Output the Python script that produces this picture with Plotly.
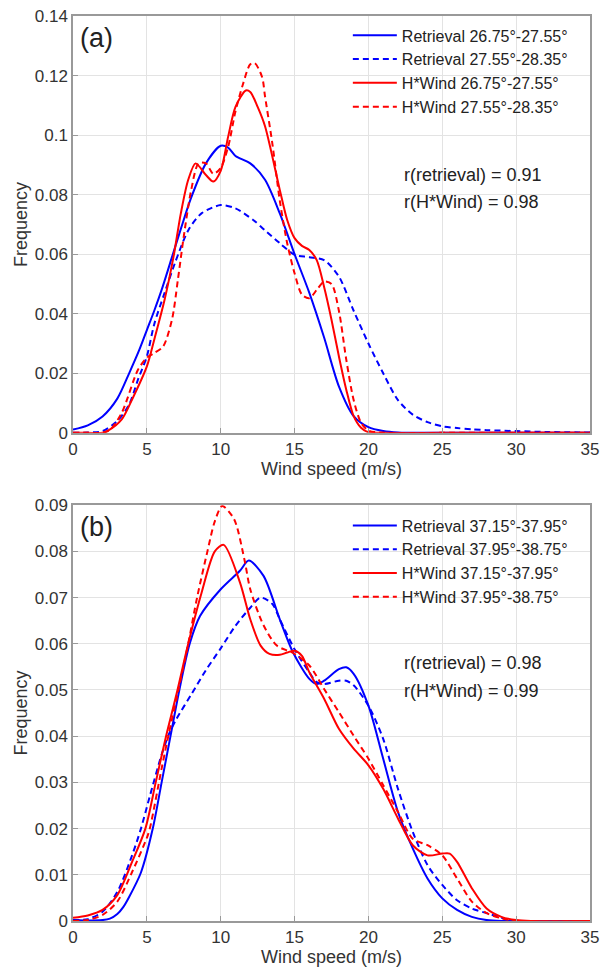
import plotly.graph_objects as go
from plotly.subplots import make_subplots

# ---------------- Panel (a) data ----------------
a_ret1_x = [0, 1, 2, 3, 3.8, 4.5, 5, 5.5, 6, 6.7, 7.3, 8, 9, 10, 10.5, 11, 12, 13, 14, 15, 16, 17, 18, 19, 20, 21, 22, 25, 30, 35]
a_ret1_y = [0.0011, 0.0025, 0.0055, 0.0115, 0.020, 0.028, 0.0345, 0.041, 0.048, 0.059, 0.0685, 0.079, 0.0905, 0.0964,
            0.0958, 0.093, 0.0905, 0.085, 0.0737, 0.060, 0.047, 0.032, 0.0156, 0.0056, 0.0019, 0.0006, 0.0001, 0, 0, 0]

a_ret2_x = [0, 1, 2, 3, 3.8, 4.4, 5, 5.5, 6.2, 6.9, 7.8, 8.7, 10, 11, 12.2, 13, 14, 15, 16, 17, 18, 19, 20, 21, 22, 23,
            24, 25, 26, 27, 28, 30, 32, 35]
a_ret2_y = [0, 0.0001, 0.0006, 0.004, 0.0095, 0.0179, 0.0257, 0.0365, 0.047, 0.057, 0.068, 0.0737, 0.0765, 0.0754,
            0.0715, 0.068, 0.0637, 0.0598, 0.059, 0.058, 0.0525, 0.041, 0.030, 0.020, 0.011, 0.0061, 0.0036, 0.0022,
            0.0016, 0.0012, 0.0009, 0.0006, 0.0003, 0.0001]

a_hw1_x = [0, 1, 2, 2.4, 3.3, 4, 5, 5.5, 6.2, 6.8, 7.3, 7.8, 8.3, 9, 9.5, 10, 10.5, 11, 11.7, 12, 12.5, 13, 14, 14.5,
           15, 15.5, 16, 16.5, 17, 17.5, 18, 18.5, 19, 19.5, 20, 21, 25, 30, 35]
a_hw1_y = [0, 0, 0, 0.0008, 0.0045, 0.0112, 0.0223, 0.0313, 0.0447, 0.059, 0.0737, 0.085, 0.0905, 0.0866, 0.0844,
           0.088, 0.0994, 0.1095, 0.115, 0.1145, 0.1095, 0.103, 0.0816, 0.0715, 0.0654, 0.0628, 0.0614, 0.058,
           0.049, 0.038, 0.0257, 0.0145, 0.0056, 0.0017, 0.0002, 0, 0, 0, 0]

a_hw2_x = [0, 1, 2, 2.5, 3.3, 4.4, 5, 5.5, 6.1, 6.7, 7.1, 7.5, 8, 8.5, 9, 9.5, 10, 10.5, 11, 11.5, 12, 12.3, 12.8,
           13, 13.5, 14, 14.5, 15, 15.5, 16, 16.5, 17, 17.5, 18, 18.5, 19, 19.5, 20, 21, 25, 30, 35]
a_hw2_y = [0, 0, 0, 0.001, 0.0067, 0.0212, 0.0252, 0.0268, 0.029, 0.038, 0.0514, 0.066, 0.0815, 0.0905, 0.0905,
           0.087, 0.089, 0.096, 0.108, 0.117, 0.1238, 0.1242, 0.1195, 0.113, 0.097, 0.078, 0.0637, 0.0536,
           0.0464, 0.0452, 0.048, 0.0508, 0.050, 0.041, 0.0246, 0.011, 0.0034, 0.0008, 0, 0, 0, 0]

# ---------------- Panel (b) data ----------------
b_ret1_x = [0, 1, 2, 2.5, 3, 3.4, 3.8, 4.6, 5.4, 6, 6.6, 7.2, 7.9, 8.6, 10, 11.3, 11.9, 12.9, 14, 14.9, 16, 16.5, 17,
            18, 18.5, 19, 20, 21, 22, 23, 24, 25, 26, 27, 28, 29, 30, 35]
b_ret1_y = [0.0002, 0.0001, 0.0002, 0.0005, 0.0015, 0.003, 0.0052, 0.0105, 0.020, 0.030, 0.040, 0.050, 0.060, 0.066,
            0.0718, 0.0758, 0.078, 0.0747, 0.0653, 0.0581, 0.0524, 0.0513, 0.052, 0.0545, 0.0549, 0.0535, 0.0466,
            0.0351, 0.0236, 0.0157, 0.0092, 0.0049, 0.0024, 0.0009, 0.0002, 0, 0, 0]

b_ret2_x = [0, 1, 2, 3, 4, 4.6, 5.2, 6, 6.5, 7, 8, 9, 10, 11, 12, 12.7, 13.5, 14, 15, 16, 16.5, 17, 18, 18.5, 19,
            20, 21, 22, 23, 24, 25, 26, 27, 28, 29, 29.5, 30, 35]
b_ret2_y = [0.0002, 0.0004, 0.002, 0.0063, 0.0142, 0.020, 0.027, 0.036, 0.0405, 0.0437, 0.049, 0.0543, 0.059,
            0.0639, 0.0678, 0.070, 0.0686, 0.0653, 0.0588, 0.0538, 0.0517, 0.0513, 0.052, 0.052, 0.051, 0.0466,
            0.0394, 0.0286, 0.0193, 0.0121, 0.0078, 0.0045, 0.0027, 0.0017, 0.0007, 0.0002, 0, 0]

b_hw1_x = [0, 1, 2, 3, 4, 4.9, 5.6, 6.3, 7, 7.8, 8.7, 9.6, 10.2, 11.3, 12, 12.7, 13.3, 14, 14.5, 15, 15.5, 16,
           17, 18, 19, 20, 21, 22, 23, 24, 25, 25.5, 26, 27, 28, 29, 30, 31, 35]
b_hw1_y = [0.0007, 0.0012, 0.0024, 0.0056, 0.0128, 0.020, 0.030, 0.040, 0.049, 0.060, 0.071, 0.080, 0.0814,
           0.0733, 0.0653, 0.0596, 0.0578, 0.0576, 0.0581, 0.0585, 0.0574, 0.0538, 0.0481, 0.0416, 0.0373,
           0.0337, 0.0286, 0.0222, 0.0164, 0.0142, 0.0146, 0.0146, 0.0128, 0.0071, 0.0027, 0.0009, 0.0002, 0, 0]

b_hw2_x = [0, 1, 2, 3, 4, 5, 5.2, 6, 6.45, 7, 7.8, 8.4, 9.1, 9.6, 10.1, 10.9, 11.6, 12, 12.9, 13.8, 14.9, 16, 17,
           18, 19, 20, 21, 22, 23, 24, 25, 26, 27, 28, 29, 30, 35]
b_hw2_y = [0, 0.0002, 0.0013, 0.0042, 0.0106, 0.018, 0.020, 0.033, 0.040, 0.048, 0.060, 0.070, 0.080, 0.0865,
           0.0898, 0.087, 0.0783, 0.0718, 0.064, 0.0596, 0.058, 0.0553, 0.0502, 0.0452, 0.0401, 0.0351,
           0.0294, 0.0236, 0.0178, 0.0164, 0.0142, 0.0092, 0.0042, 0.0017, 0.0006, 0, 0]

a_names = ["Retrieval 26.75°-27.55°", "Retrieval 27.55°-28.35°",
           "H*Wind 26.75°-27.55°", "H*Wind 27.55°-28.35°"]
b_names = ["Retrieval 37.15°-37.95°", "Retrieval 37.95°-38.75°",
           "H*Wind 37.15°-37.95°", "H*Wind 37.95°-38.75°"]
a_stats = ["r(retrieval) = 0.91", "r(H*Wind) = 0.98"]
b_stats = ["r(retrieval) = 0.98", "r(H*Wind) = 0.99"]

x_ticks = [0, 5, 10, 15, 20, 25, 30, 35]
a_yticks = [0, 0.02, 0.04, 0.06, 0.08, 0.1, 0.12, 0.14]
a_ytext = ["0", "0.02", "0.04", "0.06", "0.08", "0.1", "0.12", "0.14"]
b_yticks = [0, 0.01, 0.02, 0.03, 0.04, 0.05, 0.06, 0.07, 0.08, 0.09]
b_ytext = ["0", "0.01", "0.02", "0.03", "0.04", "0.05", "0.06", "0.07", "0.08", "0.09"]

BLUE = "#0000ff"
RED = "#ff0000"
DASH = "6px,4px"
FONT = "Liberation Sans, Arial, Helvetica, sans-serif"
TXT = "#333333"

fig = make_subplots(rows=2, cols=1, vertical_spacing=0.08)

styles = [(BLUE, "solid"), (BLUE, DASH), (RED, "solid"), (RED, DASH)]
a_data = [(a_ret1_x, a_ret1_y), (a_ret2_x, a_ret2_y), (a_hw1_x, a_hw1_y), (a_hw2_x, a_hw2_y)]
b_data = [(b_ret1_x, b_ret1_y), (b_ret2_x, b_ret2_y), (b_hw1_x, b_hw1_y), (b_hw2_x, b_hw2_y)]

for (xs, ys), name, (c, d) in zip(a_data, a_names, styles):
    fig.add_trace(go.Scatter(x=xs, y=ys, name=name, mode="lines",
                             line=dict(color=c, dash=d, width=2, shape="spline", smoothing=0.8),
                             legend="legend"), row=1, col=1)
for (xs, ys), name, (c, d) in zip(b_data, b_names, styles):
    fig.add_trace(go.Scatter(x=xs, y=ys, name=name, mode="lines",
                             line=dict(color=c, dash=d, width=2, shape="spline", smoothing=0.8),
                             legend="legend2"), row=2, col=1)

axis_common = dict(showgrid=True, gridcolor="#e3e3e3", gridwidth=1, zeroline=False,
                   showline=True, linecolor="#999999", linewidth=1.5, mirror=True,
                   ticks="inside", ticklen=5, tickcolor="#999999",
                   tickfont=dict(family=FONT, size=17, color=TXT))
title_font = dict(family=FONT, size=18, color=TXT)

fig.update_xaxes(range=[0, 35], tickvals=x_ticks, ticklabeloverflow="allow", **axis_common)
fig.update_xaxes(title=dict(text="Wind speed (m/s)", font=title_font, standoff=0), row=1, col=1)
fig.update_xaxes(title=dict(text="Wind speed (m/s)", font=title_font, standoff=4), row=2, col=1)
fig.update_yaxes(range=[0, 0.14], tickvals=a_yticks, ticktext=a_ytext,
                 title=dict(text="Frequency", font=title_font, standoff=2),
                 row=1, col=1, **axis_common)
fig.update_yaxes(range=[0, 0.09], tickvals=b_yticks, ticktext=b_ytext,
                 title=dict(text="Frequency", font=title_font, standoff=2),
                 row=2, col=1, **axis_common)

leg_font = dict(family=FONT, size=16, color="#222222")
fig.update_layout(
    width=606, height=971,
    margin=dict(l=73, r=7, t=16, b=49),
    paper_bgcolor="white", plot_bgcolor="white",
    xaxis=dict(domain=[0, 1]), xaxis2=dict(domain=[0, 1]),
    yaxis=dict(domain=[0.5394, 1.0]), yaxis2=dict(domain=[0.0, 0.4595]),
    legend=dict(x=0.5316, y=0.9974, xanchor="left", yanchor="top", xref="paper", yref="paper",
                bgcolor="rgba(0,0,0,0)", font=leg_font, tracegroupgap=0, itemwidth=44),
    legend2=dict(x=0.5316, y=0.4558, xanchor="left", yanchor="top", xref="paper", yref="paper",
                 bgcolor="rgba(0,0,0,0)", font=leg_font, tracegroupgap=0, itemwidth=44),
    showlegend=True,
)

ann_font = dict(family=FONT, size=18, color="#222222")
lab_font = dict(family=FONT, size=27, color="#222222")
fig.add_annotation(x=0.35, y=0.1325, xref="x", yref="y", text="(a)", showarrow=False,
                   xanchor="left", yanchor="middle", font=lab_font)
fig.add_annotation(x=0.35, y=0.0852, xref="x2", yref="y2", text="(b)", showarrow=False,
                   xanchor="left", yanchor="middle", font=lab_font)
fig.add_annotation(x=22.3, y=0.0866, xref="x", yref="y", text=a_stats[0], showarrow=False,
                   xanchor="left", yanchor="middle", font=ann_font)
fig.add_annotation(x=22.3, y=0.0775, xref="x", yref="y", text=a_stats[1], showarrow=False,
                   xanchor="left", yanchor="middle", font=ann_font)
fig.add_annotation(x=22.3, y=0.0558, xref="x2", yref="y2", text=b_stats[0], showarrow=False,
                   xanchor="left", yanchor="middle", font=ann_font)
fig.add_annotation(x=22.3, y=0.0498, xref="x2", yref="y2", text=b_stats[1], showarrow=False,
                   xanchor="left", yanchor="middle", font=ann_font)

fig.write_html("out.html")
